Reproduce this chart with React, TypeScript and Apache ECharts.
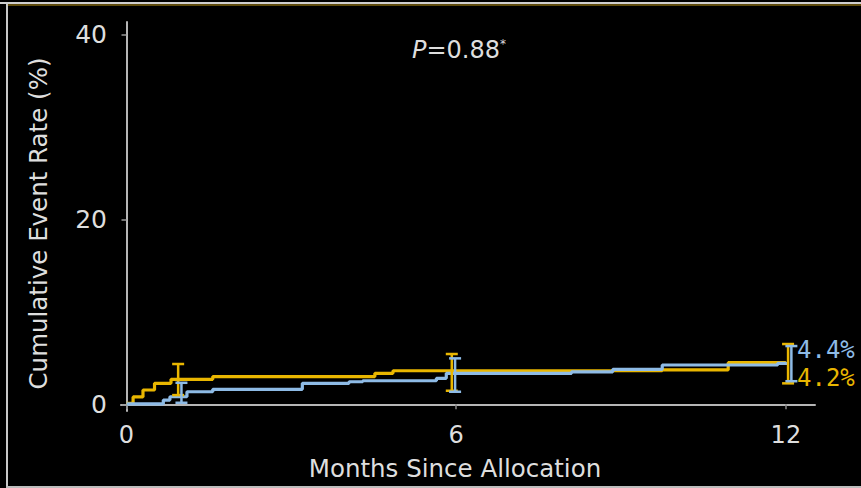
import React, { useEffect, useRef } from "react";
import * as echarts from "echarts";

const xTicks = [0, 6, 12];
const yTicks = [0, 20, 40];

// Kaplan-Meier style step points [month, cumulative %]
const yellowSeries: [number, number][] = [
  [0, 0.1], [0.12, 0.8], [0.3, 1.55], [0.51, 2.27], [0.81, 2.7], [1.57, 3.0],
  [4.52, 3.35], [4.85, 3.63], [9.75, 3.72], [10.95, 4.5], [12, 4.5],
];
const blueSeries: [number, number][] = [
  [0, 0.05], [0.67, 0.46], [0.79, 0.82], [1.1, 1.36], [1.57, 1.62], [3.2, 2.27],
  [4.05, 2.44], [4.3, 2.55], [5.64, 2.81], [5.82, 3.35], [8.1, 3.52], [8.85, 3.78],
  [9.75, 4.25], [11.85, 4.43], [12.05, 4.43],
];

// error bars [month, low, high]
const yellowErr: [number, number, number][] = [
  [0.94, 1.0, 4.36], [5.92, 1.47, 5.44], [12.04, 2.27, 6.52],
];
const blueErr: [number, number, number][] = [
  [1.0, 0.17, 2.33], [5.98, 1.36, 4.97], [12.1, 2.5, 6.3],
];

const endLabels = ["4.4%", "4.2%"];
const pText = ["P", "=0.88", "*"];

const YELLOW = "#e9b600";
const BLUE = "#8ebbe6";
const TEXT = "#dedede";
const FONT = "DejaVu Sans";

function errRender(color: string) {
  return (params: any, api: any) => {
    const x = api.value(0);
    const lo = api.coord([x, api.value(1)]);
    const hi = api.coord([x, api.value(2)]);
    const hw = 6;
    const style = { stroke: color, lineWidth: 2.5 };
    return {
      type: "group",
      children: [
        { type: "line", shape: { x1: lo[0], y1: lo[1], x2: hi[0], y2: hi[1] }, style },
        { type: "line", shape: { x1: lo[0] - hw, y1: lo[1], x2: lo[0] + hw, y2: lo[1] }, style },
        { type: "line", shape: { x1: hi[0] - hw, y1: hi[1], x2: hi[0] + hw, y2: hi[1] }, style },
      ],
    };
  };
}

export default function App() {
  const ref = useRef<HTMLDivElement>(null);
  useEffect(() => {
    if (!ref.current) return;
    const chart = echarts.init(ref.current, undefined, { renderer: "svg" });
    chart.setOption({
      animation: false,
      backgroundColor: "#000",
      grid: { left: 121, right: 46, top: 22, bottom: 77 },
      xAxis: {
        type: "value",
        min: -0.1,
        max: 12.53,
        splitLine: { show: false },
        axisLine: { lineStyle: { color: "#b5b5b5", width: 2 } },
        axisTick: { customValues: xTicks, length: 5, lineStyle: { color: "#888", width: 1.5 } },
        axisLabel: {
          customValues: xTicks,
          color: TEXT,
          fontFamily: FONT,
          fontSize: 24,
          margin: 12,
        },
        name: "Months Since Allocation",
        nameLocation: "middle",
        nameGap: 45,
        nameTextStyle: { color: TEXT, fontFamily: FONT, fontSize: 24.5, padding: [0, 26, 0, 0] },
      },
      yAxis: {
        type: "value",
        min: -0.72,
        max: 41.33,
        splitLine: { show: false },
        axisLine: { lineStyle: { color: "#b5b5b5", width: 2 } },
        axisTick: { customValues: yTicks, length: 5, lineStyle: { color: "#999", width: 1.5 } },
        axisLabel: {
          customValues: yTicks,
          color: TEXT,
          fontFamily: FONT,
          fontSize: 25,
          margin: 14,
        },
        name: "Cumulative Event Rate (%)",
        nameLocation: "middle",
        nameGap: 70,
        nameTextStyle: { color: TEXT, fontFamily: FONT, fontSize: 24.5, padding: [0, 14, 0, 0] },
      },
      series: [
        {
          type: "line",
          step: "end",
          data: yellowSeries,
          showSymbol: false,
          lineStyle: { color: YELLOW, width: 3.2 },
          z: 2,
        },
        {
          type: "line",
          step: "end",
          data: blueSeries,
          showSymbol: false,
          lineStyle: { color: BLUE, width: 3.2 },
          z: 3,
        },
        {
          type: "custom",
          data: yellowErr,
          renderItem: errRender(YELLOW),
          z: 4,
        },
        {
          type: "custom",
          data: blueErr,
          renderItem: errRender(BLUE),
          z: 5,
        },
      ],
      graphic: [
        { type: "rect", shape: { x: 0, y: 2, width: 861, height: 2 }, style: { fill: "#cfcfcf" } },
        { type: "rect", shape: { x: 6, y: 4, width: 855, height: 2 }, style: { fill: "#5e4b0c" } },
        { type: "rect", shape: { x: 6, y: 4, width: 2, height: 484 }, style: { fill: "#c8c8c8" } },
        { type: "rect", shape: { x: 6, y: 486, width: 855, height: 2 }, style: { fill: "#bdbdbd" } },
        {
          type: "text",
          x: 797,
          y: 350,
          style: {
            text: endLabels[0],
            fill: BLUE,
            font: "24px 'DejaVu Sans Mono'",
            textVerticalAlign: "middle",
          },
        },
        {
          type: "text",
          x: 797,
          y: 378,
          style: {
            text: endLabels[1],
            fill: YELLOW,
            font: "24px 'DejaVu Sans Mono'",
            textVerticalAlign: "middle",
          },
        },
        {
          type: "text",
          x: 412,
          y: 50,
          style: {
            text: `{i|${pText[0]}}{n|${pText[1]}}{s|${pText[2]}}`,
            textVerticalAlign: "middle",
            rich: {
              i: { fontFamily: FONT, fontStyle: "italic", fontSize: 24, fill: TEXT, color: TEXT },
              n: { fontFamily: FONT, fontSize: 24, fill: TEXT, color: TEXT },
              s: { fontFamily: FONT, fontSize: 12, fill: TEXT, color: TEXT, verticalAlign: "top", padding: [0, 0, 12, 0] },
            },
          },
        },
      ],
    });
    return () => chart.dispose();
  }, []);
  return (
    <div
      ref={ref}
      style={{ position: "absolute", left: 0, top: 0, width: 861, height: 488 }}
    />
  );
}
